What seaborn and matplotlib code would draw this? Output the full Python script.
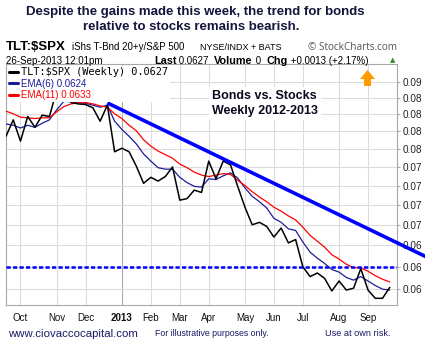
import numpy as np
import pandas as pd
import matplotlib
matplotlib.use("Agg")
import matplotlib.pyplot as plt
from matplotlib.ticker import FixedLocator, NullLocator, NullFormatter
from matplotlib.patches import Polygon
import seaborn as sns

# Weekly TLT:$SPX ratio (week starting Monday) with its 6- and 11-week EMAs
weeks = pd.date_range("2012-09-17", "2013-09-23", freq="W-MON")

ratio = [0.0818, 0.0842, 0.0811, 0.0847, 0.0831, 0.0849, 0.0847, 0.0887, 0.0900,
         0.0868, 0.0866, 0.0865, 0.0860, 0.0840, 0.0864, 0.0796, 0.0801, 0.0796,
         0.0776, 0.0753, 0.0761, 0.0756, 0.0762, 0.0775, 0.0731, 0.0733, 0.0744,
         0.0741, 0.0783, 0.0759, 0.0783, 0.0778, 0.0749, 0.0722, 0.0700, 0.0703,
         0.0698, 0.0685, 0.0696, 0.0678, 0.0682, 0.0650, 0.0639, 0.0643, 0.0637,
         0.0623, 0.0634, 0.0624, 0.0626, 0.0648, 0.0624, 0.0615, 0.0615, 0.0627]

ema6 = [0.0836, 0.0834, 0.0830, 0.0834, 0.0831, 0.0837, 0.0842, 0.0857, 0.0870,
        0.0869, 0.0868, 0.0867, 0.0864, 0.0861, 0.0864, 0.0840, 0.0828, 0.0818,
        0.0807, 0.0793, 0.0783, 0.0774, 0.0772, 0.0772, 0.0761, 0.0754, 0.0749,
        0.0748, 0.0759, 0.0758, 0.0763, 0.0767, 0.0760, 0.0747, 0.0736, 0.0729,
        0.0721, 0.0708, 0.0703, 0.0695, 0.0693, 0.0679, 0.0667, 0.0660, 0.0654,
        0.0647, 0.0644, 0.0638, 0.0635, 0.0639, 0.0634, 0.0629, 0.0625, 0.0624]

ema11 = [0.0855, 0.0851, 0.0846, 0.0845, 0.0844, 0.0845, 0.0845, 0.0854, 0.0862,
         0.0866, 0.0868, 0.0868, 0.0866, 0.0863, 0.0861, 0.0851, 0.0844, 0.0834,
         0.0826, 0.0813, 0.0804, 0.0797, 0.0792, 0.0787, 0.0779, 0.0774, 0.0768,
         0.0764, 0.0762, 0.0764, 0.0766, 0.0765, 0.0757, 0.0750, 0.0742, 0.0735,
         0.0729, 0.0722, 0.0717, 0.0711, 0.0706, 0.0697, 0.0687, 0.0680, 0.0673,
         0.0664, 0.0659, 0.0653, 0.0649, 0.0649, 0.0645, 0.0640, 0.0636, 0.0633]

# Horizontal support level and the two weekly highs that define the down-trend line
support_level = 0.065
trend_pivots = ["2012-12-24", "2013-04-15"]

ytick_values = [0.0625, 0.065, 0.0675, 0.07, 0.0725, 0.075, 0.0775, 0.08,
                0.0825, 0.085, 0.0875, 0.09]
ytick_labels = ["0.06", "0.06", "0.06", "0.07", "0.07", "0.07", "0.07", "0.08",
                "0.08", "0.08", "0.08", "0.09"]
month_labels = ["Oct", "Nov", "Dec", "2013", "Feb", "Mar", "Apr", "May", "Jun",
                "Jul", "Aug", "Sep"]

df = pd.DataFrame({"week": weeks, "ratio": ratio, "ema6": ema6, "ema11": ema11})

sns.set_style("white")
plt.rcParams["font.family"] = ["Liberation Sans", "DejaVu Sans"]

W, H = 425, 346
fig = plt.figure(figsize=(W / 100, H / 100), dpi=100)


def fx(x):
    return x / W


def fy(y):
    return 1 - y / H


ax = fig.add_axes([fx(6), fy(305), fx(397) - fx(6), fy(64) - fy(305)])

sns.lineplot(data=df, x="week", y="ratio", ax=ax, color="black", lw=1.1,
             label="TLT:$SPX (Weekly) 0.0627", zorder=4)
sns.lineplot(data=df, x="week", y="ema6", ax=ax, color="#1c1c99", lw=0.9,
             label="EMA(6) 0.0624", zorder=3)
sns.lineplot(data=df, x="week", y="ema11", ax=ax, color="#ff0000", lw=0.9,
             label="EMA(11) 0.0633", zorder=3)

ax.set_yscale("log")
x_left = weeks[1] - pd.Timedelta(days=3.8)
x_right = weeks[-1] + pd.Timedelta(days=7 * 1.0)
ax.set_xlim(x_left, x_right)
ax.set_ylim(0.06078, 0.0929)

# Down-trend line through the two pivot highs, extended to the figure edge
p = df.set_index("week")["ratio"]
t0, t1 = pd.Timestamp(trend_pivots[0]), pd.Timestamp(trend_pivots[1])
v0, v1 = p[t0], p[t1]
slope = (np.log(v1) - np.log(v0)) / (t1 - t0).days
t_end = weeks[-1] + pd.Timedelta(weeks=5)
v_end = v0 * np.exp(slope * (t_end - t0).days)
ax.plot([t0, t_end], [v0 * 1.004, v_end * 1.004], color="#0000ff", lw=2.6,
        solid_capstyle="butt", clip_on=False, zorder=5)

ax.axhline(support_level, color="#0000ff", lw=1.8, ls=(0, (1.7, 0.9)), zorder=5)

# Axes, grid and ticks
ax.yaxis.tick_right()
ax.yaxis.set_major_locator(FixedLocator(ytick_values))
ax.yaxis.set_minor_locator(NullLocator())
ax.yaxis.set_minor_formatter(NullFormatter())
ax.set_yticklabels(ytick_labels)
ax.tick_params(axis="y", which="major", length=2, pad=2, labelsize=7.2,
               colors="#222222", color="#aaaaaa")

month_first = df.groupby(df["week"].dt.to_period("M"))["week"].first()
month_first = month_first[month_first > x_left]
ax.set_xticks(list(month_first))
ax.set_xticklabels(month_labels)
for lab in ax.get_xticklabels():
    if lab.get_text() == "2013":
        lab.set_fontweight("bold")
        lab.set_fontsize(8)
ax.set_xticks(list(weeks), minor=True)
ax.tick_params(axis="x", which="major", length=3, pad=3, labelsize=7,
               colors="#111111", color="#999999")
ax.tick_params(axis="x", which="minor", length=2, color="#aaaaaa")
ax.set_xlabel("")
ax.set_ylabel("")

ax.grid(True, which="major", color="#dcdcdc", lw=0.8)
for tick, gl in zip(month_first, ax.get_xgridlines()):
    if tick.year == 2013 and tick.month == 1:
        gl.set_color("#aaaaaa")
for s in ax.spines.values():
    s.set_color("#a8a8a8")
    s.set_linewidth(0.8)

leg = ax.legend(loc="upper left", bbox_to_anchor=(0.0, 1.0), frameon=True,
                facecolor="white", edgecolor="none", framealpha=1,
                fontsize=7, handlelength=0.9, handletextpad=0.3,
                labelspacing=0.15, borderpad=0.15, borderaxespad=0.2)
leg.set_zorder(6)
for txt, line, col in zip(leg.get_texts(), leg.get_lines(),
                          ["black", "#1c1c99", "#ff0000"]):
    txt.set_color(col)
    line.set_linewidth(2.2)
leg.get_texts()[0].set_fontfamily("DejaVu Sans Mono")
leg.get_texts()[0].set_fontsize(7.4)

ax.text(0.527, 0.836, "Bonds vs. Stocks\nWeekly 2012-2013", transform=ax.transAxes,
        fontsize=9, fontweight="bold", color="#0a0a1e", ha="left", va="center",
        linespacing=1.4, zorder=6,
        bbox=dict(facecolor="white", edgecolor="none", pad=2))

# Title and header
title_col = "#14143c"
fig.text(fx(195), fy(12), "Despite the gains made this week, the trend for bonds",
         ha="center", va="center", fontsize=9.5, fontweight="bold", color=title_col)
fig.text(fx(191), fy(27), "relative to stocks remains bearish.",
         ha="center", va="center", fontsize=9.5, fontweight="bold", color=title_col)

fig.text(fx(6), fy(47), "TLT:$SPX", ha="left", va="center", fontsize=9.5,
         fontweight="bold", color="black")
fig.text(fx(72), fy(47.5), "iShs T-Bnd 20+y/S&P 500", ha="left", va="center",
         fontsize=7, color="black")
fig.text(fx(200), fy(47.5), "NYSE/INDX + BATS", ha="left", va="center",
         fontsize=6.5, color="black")
fig.text(fx(397), fy(47.5), "\u00a9 StockCharts.com", ha="right", va="center",
         fontsize=7.2, color="#555555", family=["Open Sans", "DejaVu Sans"])
fig.text(fx(6), fy(61), "26-Sep-2013 12:01pm", ha="left", va="center",
         fontsize=7, color="black")
parts = [("Last", True), (" 0.0627  ", False), ("Volume", True), (" 0  ", False),
         ("Chg", True), (" +0.0013 (+2.17%)", False)]
fig.canvas.draw()
renderer = fig.canvas.get_renderer()
xpos = 154
for s, b in parts:
    t = fig.text(fx(xpos), fy(61), s, ha="left", va="center",
                 fontsize=7.8 if b else 7.0, fontweight="bold" if b else "normal",
                 color="black")
    bb = t.get_window_extent(renderer=renderer)
    xpos += bb.width
fig.text(fx(393), fy(60), "\u25b2", ha="center", va="center", fontsize=5,
         color="#2e8b2e", family=["DejaVu Sans"])

# Orange up arrow
arrow = [(360, 79), (367.5, 70), (375, 79), (371, 79), (371, 86), (364, 86), (364, 79)]
fig.patches.append(Polygon([(fx(a), fy(b)) for a, b in arrow], closed=True,
                           transform=fig.transFigure, facecolor="#ff9a00",
                           edgecolor="none"))

# Footer
foot_col = "#1a1a66"
fig.text(fx(8), fy(334), "www.ciovaccocapital.com", ha="left", va="center",
         fontsize=8.2, color=foot_col)
fig.text(fx(155), fy(334), "For illustrative purposes only.", ha="left", va="center",
         fontsize=6.3, color=foot_col)
fig.text(fx(325), fy(334), "Use at own risk.", ha="left", va="center",
         fontsize=6.6, color=foot_col)

fig.savefig("out.png", dpi=100)
